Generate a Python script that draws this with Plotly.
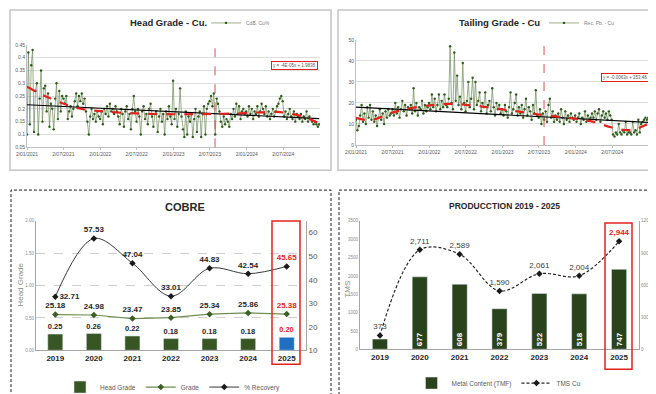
import pandas as pd
import plotly.graph_objects as go

# ---------------- data: top-left, Head Grade - Cu (weekly readings) ----------------
head_start = "2021-01-02"
head_grade = [
    0.10, 0.42, 0.14, 0.37, 0.43, 0.11, 0.27, 0.30, 0.10, 0.24, 0.35, 0.15, 0.28,
    0.29, 0.19, 0.26, 0.13, 0.22, 0.20, 0.12, 0.24, 0.30, 0.16, 0.27, 0.19, 0.25,
    0.24, 0.22, 0.25, 0.16, 0.19, 0.21, 0.17, 0.20, 0.23, 0.26, 0.21, 0.25, 0.23,
    0.26, 0.22, 0.24, 0.19, 0.15, 0.10, 0.17, 0.20, 0.16, 0.18, 0.15, 0.19, 0.17,
    0.16, 0.19, 0.14, 0.20, 0.18, 0.21, 0.17, 0.22, 0.19, 0.20, 0.18, 0.21, 0.19,
    0.17, 0.14, 0.20, 0.18, 0.13, 0.19, 0.21, 0.16, 0.18, 0.12, 0.20, 0.25, 0.19,
    0.15, 0.20, 0.17, 0.10, 0.19, 0.21, 0.16, 0.18, 0.14, 0.20, 0.22, 0.17, 0.13,
    0.18, 0.19, 0.11, 0.17, 0.20, 0.15, 0.18, 0.10, 0.19, 0.16, 0.21, 0.17, 0.14,
    0.31, 0.16, 0.20, 0.13, 0.18, 0.28, 0.17, 0.12, 0.09, 0.19, 0.10, 0.17, 0.15,
    0.18, 0.09, 0.16, 0.20, 0.11, 0.17, 0.19, 0.09, 0.18, 0.21, 0.10, 0.20, 0.22,
    0.23, 0.25, 0.21, 0.26, 0.10, 0.24, 0.22, 0.19, 0.15, 0.13, 0.17, 0.14, 0.16,
    0.15, 0.13, 0.18, 0.16, 0.20, 0.17, 0.22, 0.18, 0.21, 0.16, 0.19, 0.20, 0.18,
    0.19, 0.17, 0.21, 0.18, 0.20, 0.16, 0.19, 0.18, 0.21, 0.17, 0.19, 0.22, 0.20,
    0.18, 0.21, 0.17, 0.19, 0.16, 0.18, 0.20, 0.17, 0.19, 0.21, 0.22, 0.24, 0.25,
    0.23, 0.17, 0.19, 0.16, 0.18, 0.20, 0.17, 0.16, 0.19, 0.15, 0.18, 0.17, 0.16,
    0.18, 0.15, 0.17, 0.16, 0.19, 0.15, 0.17, 0.16, 0.15, 0.14, 0.15, 0.14, 0.13,
    0.14,
]
head_lin_dates = ["2021-01-02", "2024-12-28"]
head_lin_vals = [0.216, 0.162]
head_poly_dates = ["2021-01-02", "2021-04-01", "2021-07-01", "2021-09-01", "2022-01-01",
                   "2022-07-01", "2023-01-01", "2023-07-01", "2024-01-01", "2024-06-01",
                   "2024-10-01", "2024-12-28"]
head_poly_vals = [0.286, 0.250, 0.221, 0.204, 0.191, 0.182, 0.179, 0.180, 0.183, 0.188,
                  0.172, 0.143]
head_series_name = "CdB. Cu%"
head_equation = "y = -4E-05x + 1.9838"
head_y_ticks = [0.05, 0.10, 0.15, 0.20, 0.25, 0.30, 0.35, 0.40, 0.45]
head_y_ticktext = ["0.05", "0.1", "0.15", "0.2", "0.25", "0.3", "0.35", "0.4", "0.45"]

# ---------------- data: top-right, Tailing Grade - Cu (weekly readings) ----------------
tail_start = "2021-01-02"
tail_grade = [
    12, 7, 9, 14, 19, 11, 15, 10, 18, 13, 19, 12, 16,
    11, 14, 9, 13, 17, 12, 15, 10, 16, 13, 17, 14, 15,
    17, 14, 20, 15, 18, 13, 17, 21, 16, 19, 14, 18, 17,
    19, 15, 27, 16, 20, 14, 18, 17, 21, 15, 19, 16, 18,
    20, 17, 24, 18, 22, 16, 19, 24, 17, 21, 18, 24, 19,
    18, 22, 47, 20, 17, 44, 21, 33, 19, 23, 17, 39, 20,
    16, 21, 30, 18, 22, 32, 17, 30, 19, 21, 25, 16, 20,
    18, 25, 15, 19, 21, 16, 27, 18, 14, 20, 17, 19, 15,
    17, 14, 19, 16, 13, 18, 25, 15, 17, 20, 24, 14, 18,
    15, 19, 13, 17, 22, 14, 18, 16, 12, 19, 15, 26, 14,
    13, 17, 10, 15, 12, 16, 11, 19, 22, 13, 16, 11, 14,
    12, 15, 11, 17, 13, 10, 16, 12, 14, 11, 15, 13, 12,
    14, 11, 13, 15, 10, 13, 12, 16, 11, 14, 12, 13, 15,
    13, 16, 12, 15, 17, 11, 14, 16, 13, 15, 12, 16, 14,
    12, 5, 4, 6, 5, 10, 6, 5, 7, 6, 11, 5, 6,
    6, 5, 11, 6, 7, 5, 12, 6, 10, 11, 12, 13, 12,
    13,
]
tail_lin_dates = ["2021-01-02", "2024-12-28"]
tail_lin_vals = [18.0, 10.8]
tail_poly_dates = ["2021-01-02", "2021-03-15", "2021-07-01", "2021-10-01", "2022-01-01",
                   "2022-05-01", "2022-07-01", "2022-10-01", "2023-01-01", "2023-04-01",
                   "2023-07-01", "2023-10-01", "2024-01-01", "2024-04-01", "2024-07-01",
                   "2024-10-05", "2024-12-28"]
tail_poly_vals = [12.9, 11.8, 15.4, 17.5, 18.8, 19.6, 19.1, 18.2, 16.9, 15.8, 14.5, 13.5,
                  12.5, 11.0, 8.3, 7.1, 10.1]
tail_series_name = "Rec. Pb. - Cu"
tail_equation = "y = -0.0063x + 253.48"

date_ticks = ["2021-01-02", "2021-07-02", "2022-01-02", "2022-07-02", "2023-01-02",
              "2023-07-02", "2024-01-02", "2024-07-02"]
date_ticktext = ["2/01/2021", "2/07/2021", "2/01/2022", "2/07/2022", "2/01/2023",
                 "2/07/2023", "2/01/2024", "2/07/2024"]
cut_date = "2023-07-28"

# ---------------- data: bottom-left, COBRE ----------------
years = ["2019", "2020", "2021", "2022", "2023", "2024", "2025"]
head_grade_year = [0.25, 0.26, 0.22, 0.18, 0.18, 0.18, 0.20]
grade_year = [25.18, 24.98, 23.47, 23.85, 25.34, 25.86, 25.38]
recovery_year = [32.71, 57.53, 47.04, 33.01, 44.83, 42.54, 45.65]

# ---------------- data: bottom-right, PRODUCCTION ----------------
metal_content = [95, 677, 608, 379, 522, 518, 747]
tms_cu = [373, 2711, 2589, 1590, 2061, 2004, 2944]

# ---------------- styling ----------------
W, H = 656, 394
def px(x): return x / W
def py(y): return 1 - y / H

RED = "#e3211c"
DARK = "#262626"
GRAY = "#595959"
TITLE_FONT = "Liberation Sans Narrow, Liberation Sans, Arial, sans-serif"
BASE_FONT = "Liberation Sans, Arial, sans-serif"
last = len(years) - 1
label_colors = [RED if i == last else DARK for i in range(len(years))]

fig = go.Figure()

# ---- top-left traces
head_dates = pd.date_range(head_start, periods=len(head_grade), freq="7D")
fig.add_trace(go.Scatter(x=head_dates, y=head_grade, mode="lines+markers", name=head_series_name,
                         line=dict(color="#6f8a5a", width=0.7),
                         marker=dict(size=2.4, color="#2e5a1b"),
                         xaxis="x", yaxis="y", legend="legend"))
fig.add_trace(go.Scatter(x=head_lin_dates, y=head_lin_vals, mode="lines", showlegend=False,
                         line=dict(color="black", width=1.2), xaxis="x", yaxis="y"))
fig.add_trace(go.Scatter(x=head_poly_dates, y=head_poly_vals, mode="lines", showlegend=False,
                         line=dict(color=RED, width=2.2, dash="dash", shape="spline"),
                         xaxis="x", yaxis="y"))

# ---- top-right traces
tail_dates = pd.date_range(tail_start, periods=len(tail_grade), freq="7D")
fig.add_trace(go.Scatter(x=tail_dates, y=tail_grade, mode="lines+markers", name=tail_series_name,
                         line=dict(color="#6f8a5a", width=0.7),
                         marker=dict(size=2.4, color="#2e5a1b"),
                         xaxis="x2", yaxis="y2", legend="legend2"))
fig.add_trace(go.Scatter(x=tail_lin_dates, y=tail_lin_vals, mode="lines", showlegend=False,
                         line=dict(color="black", width=1.2), xaxis="x2", yaxis="y2"))
fig.add_trace(go.Scatter(x=tail_poly_dates, y=tail_poly_vals, mode="lines", showlegend=False,
                         line=dict(color=RED, width=2.2, dash="dash", shape="spline"),
                         xaxis="x2", yaxis="y2"))

# ---- COBRE
bar_colors = ["#1f6fc2" if i == last else "#375623" for i in range(len(years))]
fig.add_trace(go.Bar(x=years, y=head_grade_year, name="Head Grade", marker_color=bar_colors,
                     width=0.39, text=[f"{v:.2f}" for v in head_grade_year],
                     textposition="outside", cliponaxis=False,
                     textfont=dict(size=8, color=label_colors, family=BASE_FONT, weight="bold"),
                     xaxis="x3", yaxis="y3", legend="legend3"))
fig.add_trace(go.Scatter(x=years, y=grade_year, name="Grade", mode="lines+markers+text",
                         line=dict(color="#6d8f50", width=1.2),
                         marker=dict(symbol="diamond", size=5, color="#3d5f25"),
                         text=[f"{v:.2f}" for v in grade_year], textposition="top center",
                         textfont=dict(size=8, color=label_colors, family=BASE_FONT, weight="bold"),
                         cliponaxis=False, xaxis="x3", yaxis="y4", legend="legend3"))
rec_pos = ["middle right"] + ["top center"] * (len(years) - 1)
fig.add_trace(go.Scatter(x=years, y=recovery_year, name="% Recovery", mode="lines+markers+text",
                         line=dict(color="#3a3a3a", width=1.0, shape="spline"),
                         marker=dict(symbol="diamond", size=5, color="#1a1a1a"),
                         text=[f"{v:.2f}" for v in recovery_year], textposition=rec_pos,
                         textfont=dict(size=8, color=label_colors, family=BASE_FONT, weight="bold"),
                         cliponaxis=False, xaxis="x3", yaxis="y4", legend="legend3"))

# ---- PRODUCCTION
prod_bar_text = [str(v) if v >= 150 else "" for v in metal_content]
fig.add_trace(go.Bar(x=years, y=metal_content, name="Metal Content (TMF)", marker_color="#2b431c",
                     width=0.38, text=prod_bar_text, textposition="inside",
                     insidetextanchor="start", textangle=-90, constraintext="none",
                     textfont=dict(size=8, color="white", family=BASE_FONT, weight="bold"),
                     xaxis="x4", yaxis="y5", legend="legend4"))
tms_text = [f"<b>{v:,}</b>" if i == last else f"{v:,}" for i, v in enumerate(tms_cu)]
tms_colors = [RED if i == last else "#404040" for i in range(len(years))]
fig.add_trace(go.Scatter(x=years, y=tms_cu, name="TMS Cu", mode="lines+markers+text",
                         line=dict(color="#262626", width=1.2, dash="3px,2px", shape="spline"),
                         marker=dict(symbol="diamond", size=5, color="#1a1a1a"),
                         text=tms_text, textposition="top center",
                         textfont=dict(size=8, color=tms_colors, family=BASE_FONT),
                         cliponaxis=False, xaxis="x4", yaxis="y6", legend="legend4"))

tiny = dict(size=4.5, color="#8c8c8c", family=BASE_FONT)
small_tick = dict(size=5, color=GRAY, family=TITLE_FONT)
cat_tick = dict(size=8, color=DARK, family=BASE_FONT, weight="bold")

fig.update_layout(
    width=W, height=H, margin=dict(l=0, r=0, t=0, b=0), autosize=False,
    paper_bgcolor="white", plot_bgcolor="white", font=dict(family=BASE_FONT),
    barmode="overlay",
    # top-left
    xaxis=dict(domain=[px(19), px(312)], anchor="y", type="date",
               range=["2021-01-02", "2025-01-01"], tickvals=date_ticks, ticktext=date_ticktext,
               tickfont=small_tick, showgrid=False, showline=True, linecolor="#bfbfbf",
               ticks="outside", ticklen=2, tickcolor="#bfbfbf", automargin=False),
    yaxis=dict(domain=[py(140), py(37)], anchor="x", range=[0.05, 0.45],
               tickvals=head_y_ticks, ticktext=head_y_ticktext, tickfont=small_tick,
               gridcolor="#dedede", gridwidth=0.8, zeroline=False, showline=True,
               linecolor="#bfbfbf", automargin=False),
    # top-right
    xaxis2=dict(domain=[px(348), px(641)], anchor="y2", type="date",
                range=["2021-01-02", "2025-01-01"], tickvals=date_ticks, ticktext=date_ticktext,
                tickfont=small_tick, showgrid=False, showline=True, linecolor="#bfbfbf",
                ticks="outside", ticklen=2, tickcolor="#bfbfbf", automargin=False),
    yaxis2=dict(domain=[py(137.7), py(32)], anchor="x2", range=[0, 50], dtick=10,
                tickfont=small_tick, gridcolor="#dedede", gridwidth=0.8, zeroline=False,
                showline=True, linecolor="#bfbfbf", automargin=False),
    # COBRE
    xaxis3=dict(domain=[px(28), px(298)], anchor="y3", type="category", range=[-0.5, 6.5],
                tickfont=cat_tick, showline=True, linecolor="#a6a6a6", showgrid=False,
                automargin=False),
    yaxis3=dict(domain=[py(344), py(214)], anchor="x3", range=[0, 2.0],
                tickvals=[0, 0.5, 1.0, 1.5, 2.0], ticktext=["0.00", "0.50", "1.00", "1.50", "2.00"],
                tickfont=tiny, showgrid=True, gridcolor="#cfcfcf", griddash="dash",
                zeroline=False, showline=True, linecolor="#a6a6a6", automargin=False),
    yaxis4=dict(overlaying="y3", anchor="x3", side="right", range=[10, 65],
                tickvals=[10, 20, 30, 40, 50, 60], tickfont=dict(size=8, color=GRAY),
                showgrid=False, zeroline=False, showline=True, linecolor="#a6a6a6",
                automargin=False),
    # PRODUCCTION
    xaxis4=dict(domain=[px(352), px(631)], anchor="y5", type="category", range=[-0.5, 6.5],
                tickfont=cat_tick, showline=True, linecolor="#a6a6a6", showgrid=False,
                automargin=False),
    yaxis5=dict(domain=[py(343), py(214)], anchor="x4", side="right", range=[0, 1200],
                tickvals=[0, 300, 600, 900, 1200], tickfont=tiny, showgrid=False,
                zeroline=False, showline=True, linecolor="#a6a6a6", automargin=False),
    yaxis6=dict(overlaying="y5", anchor="x4", side="left", range=[0, 3500], dtick=500,
                tickfont=tiny, showgrid=False, zeroline=False, showline=True,
                linecolor="#a6a6a6", automargin=False),
    legend=dict(x=px(198), y=py(15), xanchor="left", yanchor="middle", orientation="h",
                font=dict(size=5, color="#7f7f7f"), bgcolor="rgba(0,0,0,0)", itemwidth=30),
    legend2=dict(x=px(536), y=py(15), xanchor="left", yanchor="middle", orientation="h",
                 font=dict(size=5, color="#7f7f7f"), bgcolor="rgba(0,0,0,0)", itemwidth=30),
    legend3=dict(x=px(165), y=py(381), xanchor="center", yanchor="middle", orientation="h",
                 font=dict(size=6.5, color=GRAY), bgcolor="rgba(0,0,0,0)", itemwidth=30),
    legend4=dict(x=px(491), y=py(377), xanchor="center", yanchor="middle", orientation="h",
                 font=dict(size=6.5, color=GRAY), bgcolor="rgba(0,0,0,0)", itemwidth=30),
)


def note(text, x, y, **kw):
    d = dict(text=text, x=x, y=y, xref="paper", yref="paper", showarrow=False,
             xanchor="center", yanchor="middle")
    d.update(kw)
    return d


ann = [
    note("<b>Head Grade - Cu.</b>", px(160), py(15),
         font=dict(size=9.5, family=TITLE_FONT, color=DARK)),
    note("<b>Tailing Grade - Cu</b>", px(491), py(15),
         font=dict(size=9.5, family=TITLE_FONT, color=DARK)),
    note(head_equation, px(310), py(57.5), xanchor="right",
         font=dict(size=4.5, family=TITLE_FONT, color=GRAY),
         bordercolor=RED, borderwidth=1, borderpad=1, bgcolor="white"),
    note(tail_equation, px(641), py(70), xanchor="right",
         font=dict(size=4.5, family=TITLE_FONT, color=GRAY),
         bordercolor=RED, borderwidth=1, borderpad=1, bgcolor="white"),
    note("<b>COBRE</b>", px(177), py(200), font=dict(size=11, family=BASE_FONT, color=DARK)),
    note("<b>PRODUCCTION 2019 - 2025</b>", px(497), py(199),
         font=dict(size=8.5, family=TITLE_FONT, color=DARK)),
    note("Head Grade", px(13), py(278), textangle=-90, font=dict(size=8, color="#8c8c8c")),
    note("TMS", px(340), py(283), textangle=-90, font=dict(size=8, color="#8c8c8c")),
    note("Metal Content", px(645), py(283), textangle=-90, font=dict(size=8, color="#8c8c8c")),
]
for yr, v, t in zip(years, metal_content, prod_bar_text):
    if t == "":
        ann.append(dict(text=f"<b>{v}</b>", x=yr, y=v / 2, xref="x4", yref="y5",
                        xanchor="center", yanchor="middle",
                        showarrow=False, font=dict(size=7, color="white")))
fig.update_layout(annotations=ann)

shapes = []
# panel frames
for x0, x1 in [(2, 323), (330, 652)]:
    shapes.append(dict(type="rect", xref="paper", yref="paper", x0=px(x0), x1=px(x1),
                       y0=py(163), y1=py(2), line=dict(color="#c4c4c4", width=1.5)))
for x0, x1 in [(3, 323), (331, 652)]:
    shapes.append(dict(type="rect", xref="paper", yref="paper", x0=px(x0), x1=px(x1),
                       y0=py(390), y1=py(183), line=dict(color="#1a1a1a", width=1, dash="3px,2px")))
# cut-off lines
for xr, yr in [("x", "y"), ("x2", "y2")]:
    shapes.append(dict(type="line", xref=xr, yref=f"{yr} domain", x0=cut_date, x1=cut_date,
                       y0=0, y1=1, line=dict(color="#e05050", width=1, dash="dash")))
# 2025 highlight boxes
shapes.append(dict(type="rect", xref="paper", yref="paper", x0=px(264), x1=px(292),
                   y0=py(358), y1=py(214), line=dict(color=RED, width=1.5)))
shapes.append(dict(type="rect", xref="paper", yref="paper", x0=px(597), x1=px(624),
                   y0=py(363), y1=py(216), line=dict(color=RED, width=1.5)))
fig.update_layout(shapes=shapes)

fig.write_html("out.html")
